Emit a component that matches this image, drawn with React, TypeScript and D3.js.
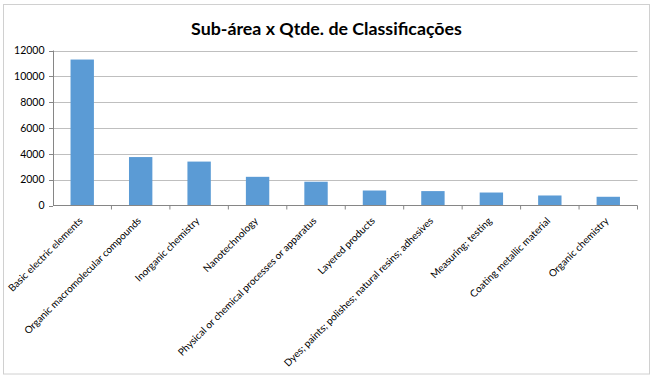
import React from "react";
import * as d3 from "d3";

const categories = [
  "Basic electric elements",
  "Organic macromolecular compounds",
  "Inorganic chemistry",
  "Nanotechnology",
  "Physical or chemical processes or apparatus",
  "Layered products",
  "Dyes; paints; polishes; natural resins; adhesives",
  "Measuring; testing",
  "Coating metallic material",
  "Organic chemistry",
];
const values = [11300, 3750, 3400, 2220, 1840, 1160, 1115, 1005, 775, 675];
const yTicks = [0, 2000, 4000, 6000, 8000, 10000, 12000];
const title = "Sub-área x Qtde. de Classificações";

const W = 657;
const H = 382;
const plot = { left: 53, right: 637.5, top: 50.5, bottom: 205.5 };
const font = "Lato, 'Open Sans', sans-serif";

export default function App() {
  const x = d3
    .scaleBand<string>()
    .domain(categories)
    .range([plot.left, plot.right])
    .paddingInner(0.6)
    .paddingOuter(0.3);
  const band = d3.scaleBand<string>().domain(categories).range([plot.left, plot.right]);
  const y = d3.scaleLinear().domain([0, 12000]).range([plot.bottom, plot.top]);

  return (
    <svg
      width={W}
      height={H}
      style={{ position: "absolute", left: 0, top: 0, background: "#fff" }}
    >
      <rect x={3.5} y={4.5} width={646} height={369.5} fill="#fff" stroke="#d0d0d0" strokeWidth={1} />
      <text
        x={326.5}
        y={35}
        textAnchor="middle"
        fontFamily={font}
        fontWeight="bold"
        fontSize={17.8}
        fill="#000"
      >
        {title}
      </text>
      {yTicks.map((t) => (
        <g key={t}>
          {t > 0 && (
            <line
              x1={plot.left}
              x2={plot.right}
              y1={Math.round(y(t)) + 0.5}
              y2={Math.round(y(t)) + 0.5}
              stroke="#bfbfbf"
              strokeWidth={1}
            />
          )}
          <line
            x1={plot.left - 4}
            x2={plot.left}
            y1={Math.round(y(t)) + 0.5}
            y2={Math.round(y(t)) + 0.5}
            stroke="#868686"
          />
          <text
            x={plot.left - 8.5}
            y={y(t)}
            dy="0.35em"
            textAnchor="end"
            fontFamily={font}
            fontSize={10.5}
            fill="#000"
          >
            {t}
          </text>
        </g>
      ))}
      {categories.map((c, i) => (
        <rect
          key={c}
          x={x(c)}
          y={y(values[i])}
          width={x.bandwidth()}
          height={plot.bottom - y(values[i])}
          fill="#5b9bd5"
        />
      ))}
      <line x1={plot.left + 0.5} x2={plot.left + 0.5} y1={plot.top} y2={plot.bottom} stroke="#868686" />
      <line x1={plot.left} x2={plot.right} y1={plot.bottom} y2={plot.bottom} stroke="#868686" />
      {categories.map((c, i) => (
        <line
          key={"t" + i}
          x1={(band(c) as number) + band.bandwidth()}
          x2={(band(c) as number) + band.bandwidth()}
          y1={plot.bottom}
          y2={plot.bottom + 4}
          stroke="#868686"
        />
      ))}
      {categories.map((c) => {
        const cx = (band(c) as number) + band.bandwidth() / 2 + 1;
        const cy = plot.bottom + 16;
        return (
          <text
            key={"l" + c}
            transform={`translate(${cx},${cy}) rotate(-45)`}
            textAnchor="end"
            fontFamily={font}
            fontSize={10}
            fill="#000"
          >
            {c}
          </text>
        );
      })}
    </svg>
  );
}
